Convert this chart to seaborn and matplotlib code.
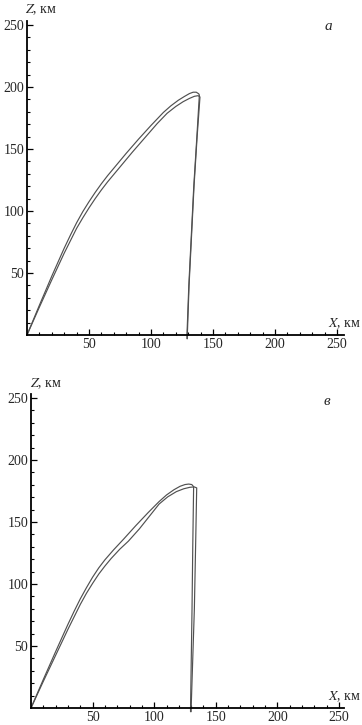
import numpy as np
import pandas as pd
import seaborn as sns
import matplotlib.pyplot as plt
from matplotlib.ticker import FixedLocator

sns.set_style('ticks')
plt.rcParams['font.family'] = ['Liberation Serif', 'DejaVu Serif']
plt.rcParams['mathtext.fontset'] = 'stix'

# panel a, two trajectories (X, Z in km)
a1_x = [0, 10, 20, 30, 35, 40, 45, 50, 55, 60, 65, 70, 80, 90, 100, 110, 116, 122, 127, 131, 134, 136.5, 138.5,
        139, 137, 134.5, 132.5, 130.5, 129, 129]
a1_z = [0, 24, 47.5, 70, 80.5, 90.5, 99.5, 107.5, 115, 122, 128.5, 134.5, 146.5, 158, 169, 179.5, 184.8, 189.3, 192.4,
        194.7, 195.8, 195.8, 194.5, 193.5, 160, 120, 80, 40, 0, -3]
a2_x = [0, 10, 20, 30, 40, 45, 50, 55, 60, 65, 70, 75, 85, 95, 105, 113, 120, 126, 131, 135, 138, 139.5,
        137.2, 134.7, 132.7, 130.7, 129.3, 129.3]
a2_z = [0, 22.5, 44.5, 66, 86, 94.5, 102.5, 110, 117, 123.5, 129.5, 135.5, 147.5, 159, 170.5, 178.8, 184.3, 188.2,
        190.8, 192.5, 193, 192, 160, 120, 80, 40, 0, -3]

# panel b
b1_x = [0, 10, 20, 30, 35, 40, 45, 50, 55, 60, 67, 75, 85, 95, 104, 110, 116, 121, 125, 128, 130.5, 132,
        131.3, 130.7, 130.1, 129.5, 129.5]
b1_z = [0, 23, 45.5, 67.5, 78, 88, 97, 105.5, 113, 119.5, 127.5, 136, 147, 157.5, 166.5, 171.8, 176, 178.8, 180.2,
        180.6, 180.2, 178.5, 130, 80, 40, 0, -3]
b2_x = [0, 10, 20, 30, 40, 45, 50, 55, 60, 65, 72, 79, 88, 96, 104, 111, 118, 124, 129, 132.5, 134.5,
        133.6, 132.6, 131.3, 130, 130]
b2_z = [0, 21.5, 42.5, 63.5, 83.5, 92.5, 100.5, 108, 114.5, 120.5, 128, 134.5, 144.5, 154.5, 164.5, 170.3, 174.5,
        176.8, 178, 178.3, 177.5, 130, 80, 40, 0, -3]

major = [50, 100, 150, 200, 250]
minor = [v for v in range(10, 251, 10) if v % 50]

panels = [
    dict(c1=(a1_x, a1_z), c2=(a2_x, a2_z), label='а',
         rect=[0, 1 - 362 / 725, 344 / 362, 341 / 725],
         xlim=(-27 / 1.24, 317 / 1.24), ylim=(-27 / 1.24, 314 / 1.24),
         xl=(243, 6.5), zl=(-1.6, 259.7), pl=(243, 246)),
    dict(c1=(b1_x, b1_z), c2=(b2_x, b2_z), label='в',
         rect=[0, 0, 344 / 362, 331 / 725],
         xlim=(-31 / 1.232, 313 / 1.232), ylim=(-17 / 1.24, 314 / 1.24),
         xl=(241, 6.5), zl=(-1.0, 259), pl=(240, 244)),
]

fig = plt.figure(figsize=(3.62, 7.25), dpi=100)
for p in panels:
    ax = fig.add_axes(p['rect'])
    df = pd.concat([
        pd.DataFrame({'X': p['c1'][0], 'Z': p['c1'][1], 'curve': 1}),
        pd.DataFrame({'X': p['c2'][0], 'Z': p['c2'][1], 'curve': 2}),
    ])
    sns.lineplot(data=df, x='X', y='Z', units='curve', estimator=None, sort=False,
                 color='#505050', lw=0.85, ax=ax, clip_on=False)
    ax.set_xlim(*p['xlim'])
    ax.set_ylim(*p['ylim'])
    for s in ['top', 'right']:
        ax.spines[s].set_visible(False)
    ax.spines['left'].set_position(('data', 0))
    ax.spines['bottom'].set_position(('data', 0))
    ax.spines['left'].set_bounds(0, p['ylim'][1])
    ax.spines['bottom'].set_bounds(0, p['xlim'][1])
    for s in ['left', 'bottom']:
        ax.spines[s].set_linewidth(1.3)
        ax.spines[s].set_color('black')
    for axis in [ax.xaxis, ax.yaxis]:
        axis.set_major_locator(FixedLocator(major))
        axis.set_minor_locator(FixedLocator(minor))
    ax.tick_params(which='both', bottom=True, left=True, direction='in', color='black')
    ax.tick_params(which='major', length=4.5, width=0.9, labelsize=10, pad=2)
    ax.tick_params(which='minor', length=2.5, width=0.8)
    ax.set_xlabel('')
    ax.set_ylabel('')
    ax.text(*p['xl'], '$X$, км', fontsize=10, ha='left', va='baseline', clip_on=False)
    ax.text(*p['zl'], '$Z$, км', fontsize=10, ha='left', va='baseline', clip_on=False)
    ax.text(*p['pl'], p['label'], fontsize=11, style='italic', ha='center', va='baseline')

fig.savefig('out.png', dpi=100)
